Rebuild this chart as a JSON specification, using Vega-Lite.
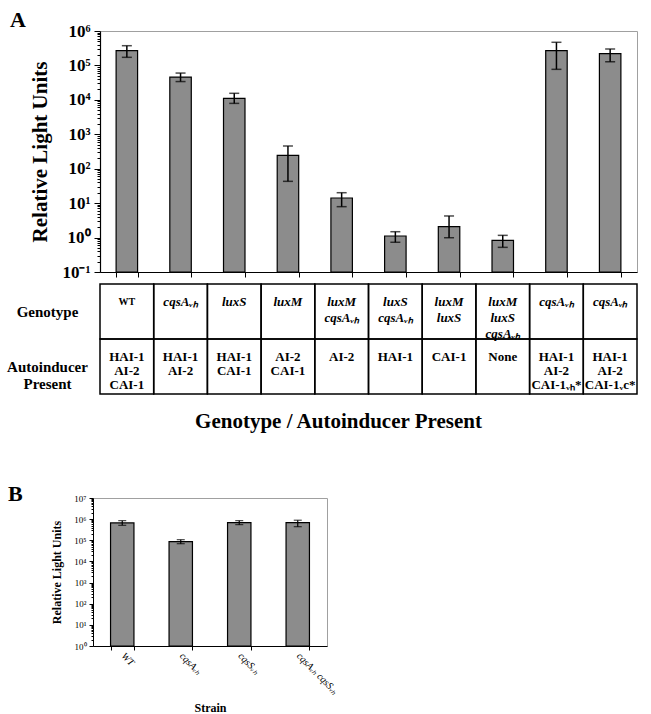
{
  "$schema": "https://vega.github.io/schema/vega-lite/v6.json",
  "padding": {"left": 4, "top": 8, "right": 5, "bottom": 0},
  "background": "white",
  "config": {
    "font": "Liberation Serif",
    "view": {"stroke": null},
    "axis": {"labelFont": "Liberation Serif", "titleFont": "Liberation Serif", "labelColor": "black", "titleColor": "black", "domainColor": "black", "tickColor": "black", "grid": false},
    "title": {"font": "Liberation Serif", "color": "black"}
  },
  "datasets": {
    "a": [
      {"k": "c1", "geno": "WT", "ai": "HAI-1|AI-2|CAI-1", "v": 268000, "lo": 172000, "hi": 374000},
      {"k": "c2", "geno": "cqsAᵥₕ", "ai": "HAI-1|AI-2", "v": 46000, "lo": 34000, "hi": 60000},
      {"k": "c3", "geno": "luxS", "ai": "HAI-1|CAI-1", "v": 11100, "lo": 7900, "hi": 15500},
      {"k": "c4", "geno": "luxM", "ai": "AI-2|CAI-1", "v": 245, "lo": 43, "hi": 457},
      {"k": "c5", "geno": "luxM|cqsAᵥₕ", "ai": "AI-2", "v": 14.1, "lo": 7.9, "hi": 20.1},
      {"k": "c6", "geno": "luxS|cqsAᵥₕ", "ai": "HAI-1", "v": 1.11, "lo": 0.73, "hi": 1.48},
      {"k": "c7", "geno": "luxM|luxS", "ai": "CAI-1", "v": 2.07, "lo": 0.99, "hi": 4.24},
      {"k": "c8", "geno": "luxM|luxS|cqsAᵥₕ", "ai": "None", "v": 0.83, "lo": 0.52, "hi": 1.16},
      {"k": "c9", "geno": "cqsAᵥₕ", "ai": "HAI-1|AI-2|CAI-1ᵥₕ*", "v": 268000, "lo": 77000, "hi": 470000},
      {"k": "c10", "geno": "cqsAᵥₕ", "ai": "HAI-1|AI-2|CAI-1ᵥc*", "v": 219000, "lo": 128000, "hi": 300000}
    ],
    "b": [
      {"s": "WT", "v": 660000, "lo": 510000, "hi": 850000},
      {"s": "cqsAᵥₕ", "v": 86000, "lo": 69000, "hi": 107000},
      {"s": "cqsSᵥₕ", "v": 680000, "lo": 550000, "hi": 850000},
      {"s": "cqsAᵥₕ   cqsSᵥₕ", "v": 680000, "lo": 440000, "hi": 890000}
    ]
  },
  "spacing": 51,
  "vconcat": [
    {
      "title": {"text": "A", "anchor": "start", "frame": "bounds", "fontSize": 22, "fontWeight": "bold", "offset": 0, "dy": 10, "dx": 6},
      "spacing": 1,
      "hconcat": [
        {"width": 1, "height": 1, "data": {"values": []}, "mark": "point"},
        {
          "spacing": 2,
          "vconcat": [
            {
              "width": 537,
              "height": 241,
              "data": {"name": "a"},
              "view": {"stroke": "#a0a0a0", "strokeWidth": 1},
              "encoding": {
                "x": {"field": "k", "type": "nominal", "sort": null,
                  "scale": {"paddingInner": 0.6, "paddingOuter": 0.3},
                  "axis": {"title": null, "labels": false, "tickBand": "extent", "tickSize": 5, "domainWidth": 1.2}}
              },
              "layer": [
                {
                  "mark": {"type": "bar", "fill": "#8c8c8c", "stroke": "black", "strokeWidth": 1.2},
                  "encoding": {
                    "y": {"field": "v", "type": "quantitative",
                      "scale": {"type": "log", "domain": [0.1, 1000000]},
                      "axis": {
                        "title": "Relative Light Units", "titleFontSize": 21, "titleFontWeight": "bold", "titlePadding": 11,
                        "labelFontSize": 17, "labelFontWeight": "bold", "labelPadding": 4, "labelOverlap": false,
                        "tickCount": 70,
                        "labelExpr": "abs(log(datum.value)/LN10 - round(log(datum.value)/LN10)) < 0.001 ? '10' + ['⁻¹','⁰','¹','²','³','⁴','⁵','⁶','⁷'][round(log(datum.value)/LN10)+1] : ''",
                        "tickSize": {"condition": {"test": "abs(log(datum.value)/LN10 - round(log(datum.value)/LN10)) < 0.001", "value": 6}, "value": 3},
                        "domainWidth": 1.2
                      }},
                    "y2": {"datum": 0.1}
                  }
                },
                {
                  "mark": {"type": "rule", "color": "black", "strokeWidth": 1.5},
                  "encoding": {"y": {"field": "lo", "type": "quantitative"}, "y2": {"field": "hi"}}
                },
                {
                  "mark": {"type": "tick", "color": "black", "thickness": 1.5, "size": 10},
                  "encoding": {"y": {"field": "lo", "type": "quantitative"}}
                },
                {
                  "mark": {"type": "tick", "color": "black", "thickness": 1.5, "size": 10},
                  "encoding": {"y": {"field": "hi", "type": "quantitative"}}
                }
              ]
            },
            {
              "width": 537,
              "height": 110,
              "data": {"name": "a"},
              "encoding": {
                "x": {"field": "k", "type": "nominal", "sort": null,
                  "scale": {"paddingInner": 0, "paddingOuter": 0},
                  "axis": {"title": "Genotype / Autoinducer Present", "labels": false, "ticks": false, "domain": false,
                    "titleFontSize": 21, "titleFontWeight": "bold", "titlePadding": 16, "titleX": 238}}
              },
              "layer": [
                {
                  "mark": {"type": "rect", "filled": false, "stroke": "black", "strokeWidth": 1.5},
                  "encoding": {"y": {"datum": "Genotype", "type": "nominal",
                    "scale": {"domain": ["Genotype", "Autoinducer Present"], "paddingInner": 0, "paddingOuter": 0},
                    "axis": {"title": null, "ticks": false, "domain": false, "labelFontSize": 15, "labelFontWeight": "bold",
                      "labelAlign": "center", "labelPadding": 53, "labelExpr": "split(datum.label, ' ')", "labelLineHeight": 17}}}
                },
                {
                  "mark": {"type": "rect", "filled": false, "stroke": "black", "strokeWidth": 1.5},
                  "encoding": {"y": {"datum": "Autoinducer Present", "type": "nominal"}}
                },
                {
                  "transform": [{"filter": "datum.geno == 'WT'"}],
                  "mark": {"type": "text", "baseline": "top", "dy": -15, "fontSize": 10, "fontWeight": "bold", "color": "black"},
                  "encoding": {"y": {"datum": "Genotype", "type": "nominal"}, "text": {"field": "geno"}}
                },
                {
                  "transform": [{"filter": "datum.geno != 'WT'"}],
                  "mark": {"type": "text", "baseline": "top", "dy": -16, "fontSize": 13, "fontWeight": "bold", "fontStyle": "italic", "lineBreak": "|", "lineHeight": 16, "color": "black"},
                  "encoding": {"y": {"datum": "Genotype", "type": "nominal"}, "text": {"field": "geno"}}
                },
                {
                  "mark": {"type": "text", "baseline": "top", "dy": -16, "fontSize": 13, "fontWeight": "bold", "lineBreak": "|", "lineHeight": 14, "color": "black"},
                  "encoding": {"y": {"datum": "Autoinducer Present", "type": "nominal"}, "text": {"field": "ai"}}
                }
              ]
            }
          ]
        }
      ]
    },
    {
      "title": {"text": "B", "anchor": "start", "frame": "bounds", "fontSize": 22, "fontWeight": "bold", "offset": 0, "dy": 12, "dx": 4},
      "spacing": 45,
      "hconcat": [
        {"width": 1, "height": 1, "data": {"values": []}, "mark": "point"},
        {
          "width": 234,
          "height": 148,
          "data": {"name": "b"},
          "view": {"stroke": "#a0a0a0", "strokeWidth": 1},
          "encoding": {
            "x": {"field": "s", "type": "nominal", "sort": null,
              "scale": {"paddingInner": 0.6, "paddingOuter": 0.3},
              "axis": {"title": "Strain", "titleFontSize": 12, "titleFontWeight": "bold", "titlePadding": 3,
                "labelAngle": 45, "labelAlign": "left", "labelBaseline": "middle", "labelFontSize": 10, "labelFontStyle": "italic",
                "tickBand": "extent", "tickSize": 4, "labelPadding": 4}}
          },
          "layer": [
            {
              "mark": {"type": "bar", "fill": "#8c8c8c", "stroke": "black", "strokeWidth": 1.2},
              "encoding": {
                "y": {"field": "v", "type": "quantitative",
                  "scale": {"type": "log", "domain": [1, 10000000]},
                  "axis": {
                    "title": "Relative Light Units", "titleFontSize": 12, "titleFontWeight": "bold", "titlePadding": 10,
                    "labelFontSize": 9, "labelPadding": 3, "labelOverlap": false,
                    "tickCount": 70,
                    "labelExpr": "abs(log(datum.value)/LN10 - round(log(datum.value)/LN10)) < 0.001 ? '10' + ['⁰','¹','²','³','⁴','⁵','⁶','⁷'][round(log(datum.value)/LN10)] : ''",
                    "tickSize": {"condition": {"test": "abs(log(datum.value)/LN10 - round(log(datum.value)/LN10)) < 0.001", "value": 4}, "value": 2}
                  }},
                "y2": {"datum": 1}
              }
            },
            {
              "mark": {"type": "rule", "color": "black", "strokeWidth": 1.2},
              "encoding": {"y": {"field": "lo", "type": "quantitative"}, "y2": {"field": "hi"}}
            },
            {
              "mark": {"type": "tick", "color": "black", "thickness": 1.2, "size": 8},
              "encoding": {"y": {"field": "lo", "type": "quantitative"}}
            },
            {
              "mark": {"type": "tick", "color": "black", "thickness": 1.2, "size": 8},
              "encoding": {"y": {"field": "hi", "type": "quantitative"}}
            }
          ]
        }
      ]
    }
  ]
}
